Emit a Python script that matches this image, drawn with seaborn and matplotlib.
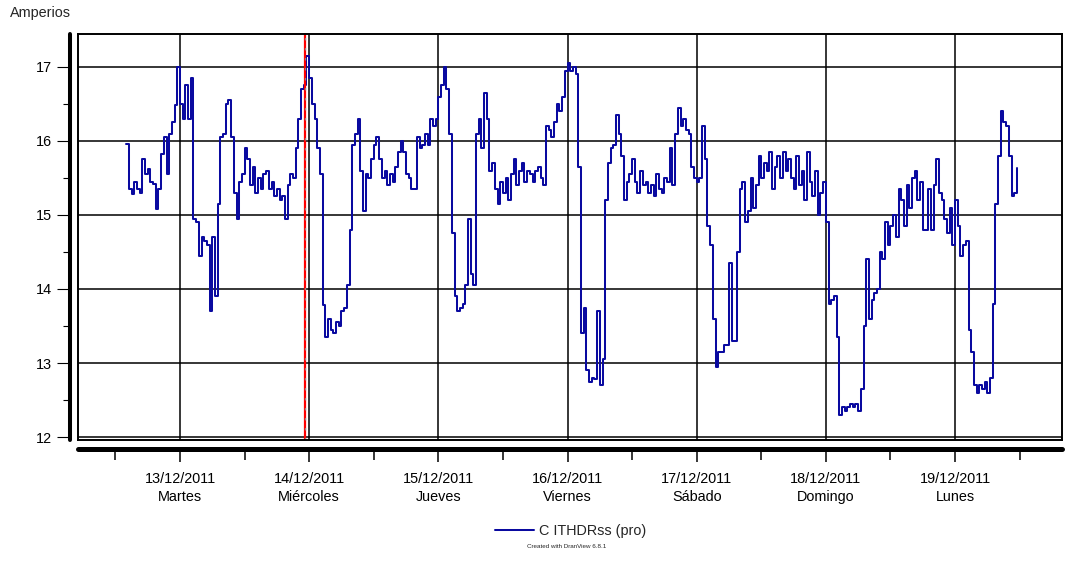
import matplotlib
matplotlib.use("Agg")
import matplotlib.pyplot as plt
import matplotlib.dates as mdates
import pandas as pd
import seaborn as sns

# Half-hourly current readings (A), one list per day
inicio = "2011-12-12 14:00"
dia12 = [15.96, 15.35, 15.28, 15.45, 15.35, 15.30, 15.75, 15.55, 15.62, 15.45,
         15.42, 15.08, 15.35, 15.82, 16.05, 15.55, 16.10, 16.25, 16.48, 17.00]
dia13 = [16.50, 16.30, 16.75, 16.30, 16.85, 14.95, 14.90, 14.45, 14.70, 14.65,
         14.60, 13.70, 14.70, 13.90, 15.15, 16.05, 16.10, 16.50, 16.55, 16.05,
         15.30, 14.95, 15.45, 15.55, 15.90, 15.75, 15.40, 15.65, 15.30, 15.50,
         15.35, 15.55, 15.60, 15.35, 15.45, 15.25, 15.35, 15.20, 15.25, 14.95,
         15.40, 15.55, 15.50, 15.90, 16.30, 16.70, 16.75, 17.15]
dia14 = [16.85, 16.50, 16.30, 15.90, 15.55, 13.78, 13.35, 13.60, 13.45, 13.40,
         13.55, 13.50, 13.70, 13.75, 14.05, 14.80, 15.95, 16.10, 16.30, 15.60,
         15.05, 15.55, 15.50, 15.75, 15.95, 16.05, 15.75, 15.50, 15.60, 15.40,
         15.55, 15.45, 15.65, 15.85, 16.00, 15.85, 15.55, 15.50, 15.35, 15.35,
         16.05, 15.90, 15.95, 16.10, 15.95, 16.30, 16.20, 16.30]
dia15 = [16.60, 16.75, 17.00, 16.70, 16.10, 14.75, 13.90, 13.70, 13.75, 13.80,
         14.05, 14.95, 14.20, 14.05, 16.10, 16.30, 15.90, 16.65, 16.30, 15.60,
         15.70, 15.35, 15.15, 15.45, 15.30, 15.50, 15.20, 15.55, 15.75, 15.40,
         15.60, 15.70, 15.45, 15.60, 15.55, 15.45, 15.60, 15.65, 15.50, 15.40,
         16.20, 16.15, 16.05, 16.25, 16.50, 16.40, 16.60, 16.95]
dia16 = [17.05, 16.95, 17.00, 16.90, 15.65, 13.40, 13.75, 12.90, 12.75, 12.80,
         12.78, 13.70, 12.70, 13.05, 15.20, 15.70, 15.90, 15.95, 16.35, 16.10,
         15.80, 15.20, 15.45, 15.55, 15.75, 15.45, 15.30, 15.60, 15.40, 15.45,
         15.30, 15.40, 15.25, 15.55, 15.35, 15.30, 15.50, 15.45, 15.90, 15.40,
         16.10, 16.45, 16.20, 16.30, 16.15, 16.10, 15.65, 15.50]
dia17 = [15.45, 15.50, 16.20, 15.75, 14.85, 14.60, 13.60, 12.95, 13.15, 13.15,
         13.25, 13.25, 14.35, 13.30, 13.30, 14.50, 15.35, 15.45, 14.90, 15.05,
         15.50, 15.10, 15.40, 15.80, 15.50, 15.70, 15.60, 15.85, 15.35, 15.65,
         15.80, 15.50, 15.85, 15.60, 15.75, 15.50, 15.35, 15.80, 15.40, 15.60,
         15.20, 15.85, 15.45, 15.25, 15.60, 15.00, 15.30, 15.45]
dia18 = [14.90, 13.80, 13.85, 13.90, 13.35, 12.30, 12.40, 12.35, 12.40, 12.45,
         12.40, 12.45, 12.35, 12.65, 13.50, 14.40, 13.60, 13.85, 13.95, 14.00,
         14.50, 14.40, 14.90, 14.60, 14.85, 15.00, 14.70, 15.35, 15.20, 14.85,
         15.40, 15.10, 15.50, 15.60, 15.20, 15.45, 14.80, 14.80, 15.35, 14.80,
         15.40, 15.75, 15.30, 15.20, 14.95, 14.75, 15.10, 14.60]
dia19 = [15.20, 14.85, 14.45, 14.60, 14.65, 13.45, 13.15, 12.70, 12.60, 12.70,
         12.65, 12.75, 12.60, 12.80, 13.80, 15.15, 15.80, 16.40, 16.25, 16.20,
         15.80, 15.25, 15.30, 15.64]

serie = "C ITHDRss (pro)"
y_ticks = [12, 13, 14, 15, 16, 17]
y_minor = [12.5, 13.5, 14.5, 15.5, 16.5]
dias_semana = ["Lunes", "Martes", "Miércoles", "Jueves", "Viernes", "Sábado", "Domingo"]
cursor = "2011-12-13 23:14"

valores = dia12 + dia13 + dia14 + dia15 + dia16 + dia17 + dia18 + dia19
tiempos = pd.date_range(inicio, periods=len(valores), freq="30min")
df = pd.DataFrame({"tiempo": tiempos, "amperios": valores})

sns.set_theme(style="white")
plt.rcParams["font.family"] = ["Liberation Sans", "DejaVu Sans"]
plt.rcParams["font.size"] = 10.4

W, H = 1065, 565
fig = plt.figure(figsize=(W / 100, H / 100), dpi=100)
rect = [78 / W, 1 - 440 / H, (1062 - 78) / W, (440 - 34) / H]

t0 = pd.Timestamp("2011-12-13")
xmin = mdates.date2num(t0 + pd.Timedelta(days=-0.7897))
xmax = mdates.date2num(t0 + pd.Timedelta(days=6.828))
ylim = (11.96, 17.445)

# main plotting area: frame, grid and the trace
ax = fig.add_axes(rect)
sns.lineplot(data=df, x="tiempo", y="amperios", ax=ax, color="#0a0aa0",
             lw=1.45, drawstyle="steps-post", label=serie, legend=False, zorder=3)
ax.set_xlim(xmin, xmax)
ax.set_ylim(*ylim)
ax.xaxis.set_major_locator(mdates.DayLocator())
ax.set_yticks(y_ticks)
ax.grid(True, color="black", lw=1.1)
ax.tick_params(length=0, labelbottom=False, labelleft=False)
ax.set_xlabel("")
ax.set_ylabel("")
for s in ax.spines.values():
    s.set_color("black")
    s.set_linewidth(1.4)
    s.set_zorder(6)

cur = mdates.date2num(pd.Timestamp(cursor))
ax.axvline(cur, color="red", lw=1.6, zorder=4)
ax.axvline(cur, color="#8a8a8a", lw=0.9, ls=(0, (2, 6)), zorder=5)

# detached value axis on the left
axy = fig.add_axes(rect, facecolor="none")
axy.set_ylim(*ylim)
axy.set_xlim(0, 1)
axy.xaxis.set_visible(False)
for k in ("top", "right", "bottom"):
    axy.spines[k].set_visible(False)
axy.spines["left"].set_position(("outward", 5.8))
axy.spines["left"].set_linewidth(2.9)
axy.spines["left"].set_capstyle("round")
axy.spines["left"].set_color("black")
axy.set_yticks(y_ticks)
axy.set_yticks(y_minor, minor=True)
axy.tick_params(axis="y", which="major", length=9.4, width=0.8, color="black",
                pad=3.6, labelsize=10.4, labelcolor="black", left=True)
axy.tick_params(axis="y", which="minor", length=5, width=0.8, color="black", left=True)

# detached time axis below
axx = fig.add_axes(rect, facecolor="none")
axx.set_xlim(xmin, xmax)
axx.set_ylim(0, 1)
axx.yaxis.set_visible(False)
for k in ("top", "right", "left"):
    axx.spines[k].set_visible(False)
axx.spines["bottom"].set_position(("outward", 6.8))
axx.spines["bottom"].set_linewidth(3.6)
axx.spines["bottom"].set_capstyle("round")
axx.spines["bottom"].set_color("black")
axx.xaxis.set_major_locator(mdates.DayLocator())
axx.xaxis.set_minor_locator(mdates.HourLocator(byhour=[12]))


def etiqueta(x, pos=None):
    d = mdates.num2date(x)
    return f"{d:%d/%m/%Y}\n{dias_semana[d.weekday()]}"


axx.xaxis.set_major_formatter(plt.FuncFormatter(etiqueta))
axx.tick_params(axis="x", which="major", length=9.7, width=1.1, color="black",
                pad=6.7, labelsize=10.4, labelcolor="black", bottom=True)
axx.tick_params(axis="x", which="minor", length=7.6, width=1.1, color="black", bottom=True)
fig.canvas.draw()
for lab in axx.get_xticklabels():
    lab.set_linespacing(1.38)

fig.text(10 / W, 1 - 13 / H, "Amperios", ha="left", va="center", fontsize=10.4)

h, l = ax.get_legend_handles_labels()
fig.legend(h, l, loc="center", bbox_to_anchor=(571 / W, 1 - 531 / H),
           frameon=False, handlelength=2.7, handletextpad=0.35, fontsize=10.4)

fig.text(567 / W, 1 - 547 / H, "Created with DranView 6.8.1", ha="center",
         va="center", fontsize=4.5)

fig.savefig("out.png", dpi=100)
